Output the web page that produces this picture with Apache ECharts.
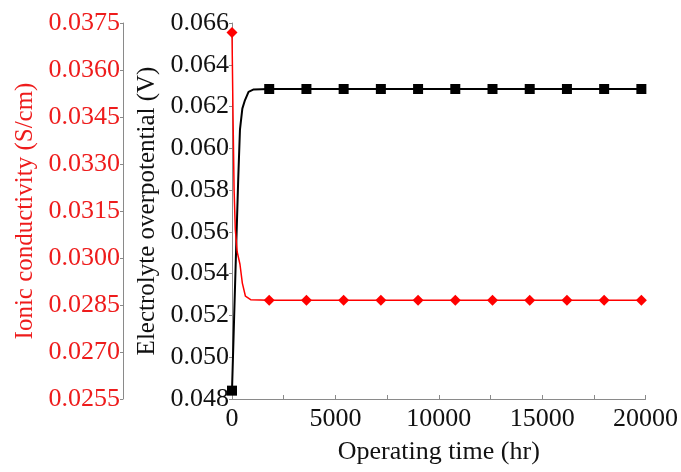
<!DOCTYPE html>
<html>
<head>
<meta charset="utf-8">
<script src="https://cdn.jsdelivr.net/npm/echarts@6/dist/echarts.min.js"></script>
<style>
html,body{margin:0;padding:0;background:#fff;}
#chart{width:681px;height:472px;}
</style>
</head>
<body>
<div id="chart"></div>
<script>
// ---- data ----
const markerTimes = [0, 1800, 3600, 5400, 7200, 9000, 10800, 12600, 14400, 16200, 18000, 19800];

const timeOverpotential = [0, 100, 200, 300, 385, 500, 625, 800, 1050, 1800, 3600, 5400, 7200, 9000, 10800, 12600, 14400, 16200, 18000, 19800];
const overpotential = [0.0484, 0.0518, 0.0552, 0.0585, 0.0609, 0.0619, 0.0623, 0.0627, 0.06282, 0.06284, 0.06284, 0.06284, 0.06284, 0.06284, 0.06284, 0.06284, 0.06284, 0.06284, 0.06284, 0.06284];

const timeConductivity = [0, 50, 100, 160, 250, 385, 500, 650, 900, 1800, 3600, 5400, 7200, 9000, 10800, 12600, 14400, 16200, 18000, 19800];
const conductivity = [0.0372, 0.0345, 0.0322, 0.0309, 0.0302, 0.0298, 0.0292, 0.02878, 0.02867, 0.02865, 0.02865, 0.02865, 0.02865, 0.02865, 0.02865, 0.02865, 0.02865, 0.02865, 0.02865, 0.02865];

const xTicks = {min: 0, max: 20000, step: 2500, labelStep: 5000};
const overpotentialTicks = {min: 0.048, max: 0.066, step: 0.002};
const conductivityTicks = {min: 0.0255, max: 0.0375, step: 0.0015};

const xName = 'Operating time (hr)';
const overpotentialName = 'Electrolyte overpotential (V)';
const conductivityName = 'Ionic conductivity (S/cm)';

// ---- build ----
function withMarkers(times, vals) {
  return times.map((t, i) => markerTimes.indexOf(t) >= 0
    ? {value: [t, vals[i]]}
    : {value: [t, vals[i]], symbol: 'none'});
}

const FONT = "'Liberation Serif', 'Times New Roman', serif";
const RED = '#ee1c1c';
const AXIS = '#8a8a8a';

const chart = echarts.init(document.getElementById('chart'), null, {renderer: 'canvas'});
chart.setOption({
  animation: false,
  backgroundColor: '#fff',
  textStyle: {fontFamily: FONT},
  grid: {left: 232, right: 33, top: 23, bottom: 73, containLabel: false},
  xAxis: {
    type: 'value',
    min: xTicks.min, max: xTicks.max, interval: xTicks.step,
    name: xName, nameLocation: 'middle', nameGap: 40,
    nameTextStyle: {fontFamily: FONT, fontSize: 26, color: '#111'},
    axisLine: {show: true, lineStyle: {color: AXIS, width: 1}},
    axisTick: {show: true, inside: true, length: 4, lineStyle: {color: AXIS}},
    axisLabel: {
      fontFamily: FONT, fontSize: 26, color: '#111', margin: 7,
      formatter: v => (v % xTicks.labelStep === 0 ? String(v) : '')
    },
    splitLine: {show: false}
  },
  yAxis: [
    {
      type: 'value', position: 'left',
      min: overpotentialTicks.min, max: overpotentialTicks.max, interval: overpotentialTicks.step,
      name: overpotentialName, nameLocation: 'middle', nameGap: 72,
      nameTextStyle: {fontFamily: FONT, fontSize: 25, color: '#111'},
      axisLine: {show: true, lineStyle: {color: AXIS, width: 1}},
      axisTick: {show: true, inside: false, length: 3, lineStyle: {color: AXIS}},
      axisLabel: {fontFamily: FONT, fontSize: 26, color: '#111', margin: 3,
        formatter: v => v.toFixed(3)},
      splitLine: {show: false}
    },
    {
      type: 'value', position: 'left', offset: 109,
      min: conductivityTicks.min, max: conductivityTicks.max, interval: conductivityTicks.step,
      name: conductivityName, nameLocation: 'middle', nameGap: 85,
      nameTextStyle: {fontFamily: FONT, fontSize: 25, color: RED},
      axisLine: {show: true, lineStyle: {color: AXIS, width: 1}},
      axisTick: {show: true, inside: false, length: 3, lineStyle: {color: AXIS}},
      axisLabel: {fontFamily: FONT, fontSize: 26, color: RED, margin: 3,
        formatter: v => v.toFixed(4)},
      splitLine: {show: false}
    }
  ],
  series: [
    {
      type: 'line', yAxisIndex: 0,
      data: withMarkers(timeOverpotential, overpotential),
      symbol: 'rect', symbolSize: 10, showSymbol: true,
      lineStyle: {color: '#000', width: 2},
      itemStyle: {color: '#000'},
      z: 2
    },
    {
      type: 'line', yAxisIndex: 1,
      data: withMarkers(timeConductivity, conductivity),
      symbol: 'diamond', symbolSize: 11, showSymbol: true,
      lineStyle: {color: '#ff0000', width: 1.5},
      itemStyle: {color: '#ff0000'},
      z: 3
    }
  ]
});
</script>
</body>
</html>
